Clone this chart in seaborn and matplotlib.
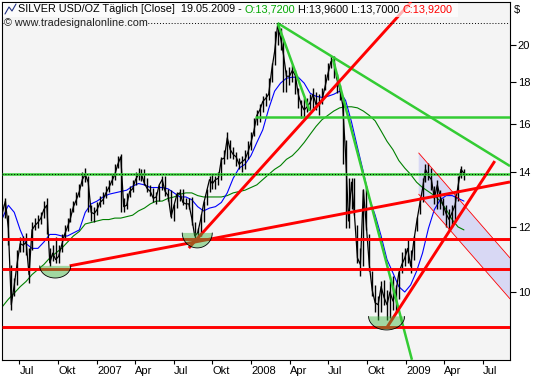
import numpy as np
import pandas as pd
import matplotlib
matplotlib.use("Agg")
import matplotlib.pyplot as plt
import matplotlib.dates as mdates
from matplotlib.ticker import FixedLocator, FixedFormatter, NullLocator
import seaborn as sns

# weekly closes (first week 2006-05-22, last bar 2009-05-19)
close = [12.5, 12.9, 11.95, 9.65, 10.2, 10.85, 11.45, 11.4, 11.5, 10.5,
         11.9, 12.05, 12.15, 12.3, 12.6, 12.75, 10.85, 11.15, 10.95, 11.05,
         11.4, 11.75, 12.0, 12.3, 12.7, 12.95, 13.25, 13.7, 13.9, 13.6,
         12.5, 12.45, 12.6, 12.85, 12.95, 13.2, 13.4, 13.65, 13.9, 14.3,
         14.6, 12.7, 12.75, 13.25, 13.35, 13.7, 13.9, 13.9, 13.55, 13.35,
         13.25, 13.0, 13.05, 13.5, 13.7, 13.25, 13.1, 12.35, 12.75, 13.15,
         13.2, 12.85, 12.8, 12.8, 12.3, 11.7, 11.8, 12.25, 12.8, 13.25,
         13.7, 13.55, 13.7, 13.75, 14.5, 14.55, 15.4, 14.9, 14.7, 14.6,
         14.3, 14.4, 14.5, 14.8, 15.2, 15.7, 16.4, 16.65, 17.05, 17.2,
         17.4, 18.6, 19.6, 21.1, 20.4, 19.45, 18.3, 18.3, 18.6, 18.35,
         17.4, 16.9, 16.65, 16.8, 17.0, 17.4, 16.9, 17.0, 17.1, 17.75,
         18.4, 19.05, 19.2, 18.2, 17.7, 16.9, 14.7, 12.2, 13.6, 12.4,
         11.0, 10.8, 13.3, 12.05, 10.8, 10.05, 9.7, 9.65, 10.15, 9.85,
         9.65, 10.0, 9.75, 10.0, 10.55, 10.8, 11.0, 11.3, 10.75, 11.5,
         12.15, 12.75, 13.35, 14.1, 13.85, 13.7, 13.0, 13.5, 13.05, 12.75,
         12.45, 12.25, 12.5, 12.75, 13.45, 14.1, 13.92]
high = [12.8, 13.0, 12.4, 10.8, 10.4, 11.25, 11.65, 11.7, 11.8, 11.3,
        12.15, 12.3, 12.4, 12.5, 12.9, 13.0, 11.3, 11.4, 11.65, 11.4,
        11.75, 12.05, 12.3, 12.65, 12.9, 13.25, 13.55, 14.0, 14.15, 13.85,
        12.75, 12.7, 12.85, 13.1, 13.25, 13.45, 13.7, 13.9, 14.3, 14.65,
        14.7, 13.0, 13.2, 13.45, 13.7, 14.0, 14.15, 14.1, 14.1, 13.75,
        13.5, 13.4, 13.25, 13.5, 13.85, 13.85, 13.35, 13.3, 12.8, 13.25,
        13.35, 13.35, 13.0, 13.0, 13.05, 12.15, 11.95, 12.45, 12.9, 13.35,
        13.85, 13.9, 13.85, 14.0, 14.6, 14.9, 15.65, 15.3, 15.0, 14.8,
        14.55, 14.65, 14.9, 15.25, 15.65, 16.3, 16.65, 16.95, 17.3, 17.45,
        18.2, 19.0, 20.8, 21.24, 20.95, 20.3, 18.6, 18.8, 18.9, 18.6,
        17.7, 17.1, 17.2, 17.2, 17.4, 17.7, 17.5, 17.4, 17.7, 18.4,
        19.0, 19.35, 19.35, 18.4, 17.85, 17.2, 15.3, 13.75, 13.75, 13.75,
        12.05, 11.3, 13.35, 13.45, 11.75, 10.6, 10.2, 9.9, 10.3, 10.35,
        10.05, 10.3, 10.45, 10.2, 10.6, 11.2, 11.3, 11.6, 11.25, 11.7,
        12.35, 13.05, 13.75, 14.3, 14.35, 14.15, 13.45, 13.7, 13.3, 13.0,
        12.75, 12.6, 12.75, 13.15, 13.85, 14.25, 14.1]
low = [12.35, 12.3, 11.4, 9.5, 9.9, 10.2, 11.2, 11.2, 11.1, 10.25,
       11.25, 11.9, 11.95, 12.1, 12.3, 11.75, 10.75, 10.9, 10.85, 10.85,
       11.2, 11.6, 11.85, 12.15, 12.5, 12.75, 13.05, 13.45, 13.6, 12.5,
       12.2, 12.15, 12.4, 12.7, 12.8, 13.0, 13.25, 13.5, 13.7, 14.15,
       12.5, 12.5, 12.6, 13.05, 13.25, 13.5, 13.7, 13.65, 13.5, 13.25,
       13.1, 12.85, 12.8, 12.9, 13.3, 13.1, 12.9, 12.3, 12.2, 12.65,
       12.9, 12.75, 12.6, 12.6, 12.05, 11.6, 11.55, 11.7, 12.15, 12.75,
       13.25, 13.35, 13.35, 13.5, 13.7, 14.3, 14.5, 14.55, 14.5, 14.25,
       14.1, 14.0, 14.1, 14.5, 14.9, 15.5, 15.95, 16.1, 16.55, 16.85,
       17.1, 18.0, 18.9, 20.0, 19.7, 17.5, 17.5, 17.85, 18.0, 17.4,
       16.75, 16.3, 16.3, 16.55, 16.65, 16.65, 16.65, 16.4, 16.95, 17.6,
       18.1, 18.75, 18.2, 17.45, 17.1, 14.3, 11.95, 11.95, 12.6, 12.4,
       10.85, 10.45, 10.75, 11.9, 10.6, 9.9, 9.45, 9.25, 9.45, 9.65,
       9.25, 9.3, 9.5, 9.45, 9.8, 10.55, 10.75, 10.85, 10.55, 10.95,
       11.85, 12.45, 12.85, 13.6, 13.7, 13.3, 12.8, 12.6, 12.6, 12.4,
       12.0, 11.9, 12.0, 12.15, 12.9, 13.75, 13.7]

# moving averages, read every two weeks
ma_fast = [12.3, 12.75, 12.5, 11.9, 11.45, 11.3, 11.3, 11.5, 11.75, 11.75,
           11.7, 11.7, 11.8, 11.9, 12.5, 12.8, 12.9, 13.05, 13.15, 13.2,
           13.25, 13.3, 13.45, 13.55, 13.5, 13.4, 13.4, 13.4, 13.35, 13.2,
           13.05, 13.05, 12.95, 12.7, 12.55, 12.65, 12.7, 12.85, 13.2, 13.75,
           14.15, 14.3, 14.65, 15.2, 15.75, 16.7, 17.55, 17.95, 18.2, 18.25,
           18.25, 17.95, 17.45, 17.3, 17.25, 17.3, 17.4, 17.55, 17.1, 16.1,
           15.0, 14.0, 13.0, 12.4, 11.7, 10.95, 10.55, 10.15, 10.0, 10.2,
           10.6, 11.15, 11.95, 12.6, 12.95, 13.1, 13.1, 13.0, 12.9]
ma_slow = [9.6, 9.8, 9.97, 10.15, 10.3, 10.5, 10.65, 10.8, 11.0, 11.15,
           11.3, 11.5, 11.7, 11.85, 12.1, 12.15, 12.2, 12.25, 12.25, 12.3,
           12.3, 12.35, 12.4, 12.55, 12.65, 12.8, 12.9, 12.9, 13.0, 13.05,
           13.15, 13.2, 13.2, 13.1, 13.05, 13.05, 13.05, 13.05, 13.1, 13.2,
           13.25, 13.3, 13.4, 13.5, 13.7, 13.9, 14.1, 14.25, 14.5, 14.65,
           14.9, 15.2, 15.55, 15.9, 16.2, 16.4, 16.6, 16.75, 16.8, 16.8,
           16.75, 16.6, 16.4, 16.15, 15.7, 15.25, 14.9, 14.45, 14.15, 13.9,
           13.6, 13.4, 13.25, 13.1, 12.9, 12.6, 12.25, 12.0, 11.9]

# drawn trend lines: (start date, start price, end date, end price)
green_trends = [("2008-03-03", 21.24, "2009-09-04", 14.23),
                ("2008-03-03", 21.24, "2008-05-18", 16.6),
                ("2008-07-12", 19.2, "2009-01-15", 8.27),
                ("2008-01-09", 16.34, "2009-09-04", 16.34),
                ("2006-05-21", 13.92, "2009-09-04", 13.92)]
red_trends = [("2006-10-28", 10.76, "2009-09-04", 13.61),
              ("2007-08-06", 11.31, "2009-01-13", 22.53),
              ("2008-11-17", 9.06, "2009-07-30", 14.43),
              ("2006-05-21", 11.61, "2009-09-04", 11.61),
              ("2006-05-21", 10.67, "2009-09-04", 10.67),
              ("2006-05-21", 9.06, "2009-09-04", 9.06)]
channel_upper = ("2009-01-31", 14.76, "2009-09-04", 11.0)
channel_lower = ("2009-01-31", 13.15, "2009-09-04", 9.81)

# half-ellipse marks at the lows: centre date, centre price, half width (days), depth (log)
bowls = [("2006-09-24", 10.76, 36.7, 0.034),
         ("2007-08-26", 11.8, 35.5, 0.042),
         ("2008-11-16", 9.34, 42.6, 0.038)]

high_line = 21.24
last_close = 13.92
y_ticks = [10, 12, 14, 16, 18, 20]
x_ticks = ["2006-07-01", "2006-10-01", "2007-01-01", "2007-04-01", "2007-07-01",
           "2007-10-01", "2008-01-01", "2008-04-01", "2008-07-01", "2008-10-01",
           "2009-01-01", "2009-04-01", "2009-07-01"]
x_labels = ["Jul", "Okt", "2007", "Apr", "Jul", "Okt", "2008", "Apr", "Jul",
            "Okt", "2009", "Apr", "Jul"]

sns.set_style("white")
plt.rcParams["font.family"] = ["Liberation Sans", "DejaVu Sans"]

W, H = 533, 380
fig = plt.figure(figsize=(W / 100, H / 100), dpi=100)
fig.patch.set_facecolor("white")
ax = fig.add_axes([2 / W, 1 - 360 / H, 508 / W, 358 / H])
ax.set_facecolor("#f4f4f4")


def px(x, y):
    return x / W, 1 - y / H


weeks = pd.date_range("2006-05-22", periods=len(close), freq="7D")
weeks = weeks[:-1].append(pd.DatetimeIndex(["2009-05-19"]))
fortnights = pd.date_range("2006-05-22", periods=len(ma_fast), freq="14D")

# shaded channel
cu0, cu1 = pd.to_datetime([channel_upper[0], channel_upper[2]])
ax.fill([cu0, cu1, cu1, cu0],
        [channel_upper[1], channel_upper[3], channel_lower[3], channel_lower[1]],
        color="#d8d8f4", zorder=1, lw=0)

sns.lineplot(x=fortnights, y=ma_slow, ax=ax, color="#008000", linewidth=0.8, zorder=2)
sns.lineplot(x=fortnights, y=ma_fast, ax=ax, color="#0000ff", linewidth=0.8, zorder=2)
ax.vlines(weeks, low, high, color="black", lw=1.0, zorder=2.5)
sns.lineplot(x=weeks, y=close, ax=ax, color="black", linewidth=0.9, zorder=2.5)

for d0, p0, d1, p1 in green_trends:
    ax.plot(pd.to_datetime([d0, d1]), [p0, p1], color="#33cc33", lw=1.8,
            solid_capstyle="butt", zorder=3)
for d0, p0, d1, p1 in red_trends:
    ax.plot(pd.to_datetime([d0, d1]), [p0, p1], color="#ff0000", lw=2.1,
            solid_capstyle="butt", zorder=3)
for ch in (channel_upper, channel_lower):
    ax.plot(pd.to_datetime([ch[0], ch[2]]), [ch[1], ch[3]], color="#ff0000",
            lw=0.6, zorder=3)

t = np.linspace(np.pi, 2 * np.pi, 60)
for d, p, rx, ry in bowls:
    cx = mdates.date2num(pd.Timestamp(d))
    xs = mdates.num2date(cx + rx * np.cos(t))
    ys = np.exp(np.log(p) + ry * np.sin(t))
    ax.fill(xs, ys, color="#3cb83c", alpha=0.45, lw=0, zorder=4)
    ax.plot(xs, ys, color="black", lw=0.6, zorder=4)

ax.axhline(high_line, color="black", lw=0.7, ls=(0, (1, 2)), zorder=5)
ax.axhline(last_close, color="black", lw=0.7, ls=(0, (1, 2)), zorder=5)

ax.set_yscale("log")
ax.set_ylim(8.266, 22.53)
ax.set_xlim(pd.Timestamp("2006-05-21"), pd.Timestamp("2009-09-04"))
ax.yaxis.set_major_locator(FixedLocator(y_ticks))
ax.yaxis.set_major_formatter(FixedFormatter([str(v) for v in y_ticks]))
ax.yaxis.set_minor_locator(NullLocator())
ax.yaxis.tick_right()
ax.set_xticks(pd.to_datetime(x_ticks))
ax.set_xticklabels(x_labels, ha="left")
ax.xaxis.set_minor_locator(NullLocator())
ax.tick_params(axis="y", direction="out", length=4, width=0.8, pad=1.5,
               labelsize=8, colors="black", right=True)
ax.tick_params(axis="x", direction="out", length=3, width=0.8, pad=1,
               labelsize=8, colors="black", bottom=True)
ax.set_xlabel("")
ax.set_ylabel("")
for s in ax.spines.values():
    s.set_color("black")
    s.set_linewidth(0.8)

# header band
fig.patches.append(plt.Rectangle(px(2.5, 17), 455 / W, 14.5 / H, transform=fig.transFigure,
                                 facecolor="white", alpha=0.7, lw=0, zorder=6))
icon = [px(5, 14), px(9, 7), px(12, 11), px(16, 4)]
fig.lines.append(plt.Line2D([p[0] for p in icon], [p[1] for p in icon],
                            transform=fig.transFigure, color="#203080", lw=0.8, zorder=7))

parts = [("SILVER USD/OZ Täglich [Close]  19.05.2009 - ", "black"),
         ("O:13,7200", "#00a800"),
         (" H:13,9600 L:13,7000 ", "black"),
         ("C:13,9200", "#ff0000")]
x0, y0 = px(18, 14.5)
for s, c in parts:
    fig.text(x0, y0, s, color=c, fontsize=7.8, ha="left", va="bottom", zorder=8)
fig.canvas.draw()
r = fig.canvas.get_renderer()
xpos = x0
for txt in fig.texts:
    txt.set_position((xpos, y0))
    xpos += txt.get_window_extent(r).width / W

cx, cy = px(4, 28.5)
fig.text(cx, cy, "© www.tradesignalonline.com", fontsize=7.8, color="#202020",
         ha="left", va="bottom", zorder=8,
         bbox=dict(facecolor="#f4f4f4", edgecolor="none", pad=0.3))
dx, dy = px(514, 15)
fig.text(dx, dy, "$", fontsize=8, color="black", ha="left", va="bottom")

fig.savefig("out.png", dpi=100, facecolor="white")
